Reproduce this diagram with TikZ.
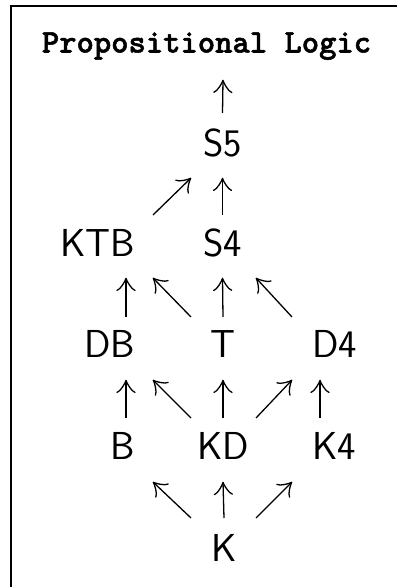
\documentclass[tikz,border=0pt]{standalone}
\usepackage{fontspec}
\usetikzlibrary{arrows.meta}
% heavier typewriter face for the heading
\newfontfamily\headfont{lmmonolt10-bold}[Extension=.otf, FakeBold=1.6]
% large Computer-Modern-style arrow head: tip at the origin, curled barbs behind it
\pgfdeclarearrow{
  name = cmhead,
  setup code = {
    \pgfarrowssettipend{0.4pt}
    \pgfarrowssetbackend{-12pt}
    \pgfarrowssetlineend{-0.6pt}
    \pgfarrowshullpoint{0.4pt}{0pt}
    \pgfarrowshullpoint{-12pt}{9pt}
    \pgfarrowshullpoint{-12pt}{-9pt}
  },
  drawing code = {
    \pgfsetdash{}{+0pt}
    \pgfsetlinewidth{1.3pt}
    \pgfsetroundcap
    \pgfsetroundjoin
    \pgfpathmoveto{\pgfqpoint{-12pt}{9pt}}
    \pgfpathcurveto{\pgfqpoint{-11.2pt}{5.6pt}}{\pgfqpoint{-2.4pt}{0.6pt}}{\pgfqpoint{0pt}{0pt}}
    \pgfpathcurveto{\pgfqpoint{-2.4pt}{-0.6pt}}{\pgfqpoint{-11.2pt}{-5.6pt}}{\pgfqpoint{-12pt}{-9pt}}
    \pgfusepathqstroke
  }
}
\begin{document}
\begin{tikzpicture}[x=1pt,y=1pt,
  sys/.style={inner sep=0pt, outer sep=0pt, text height=27pt, text depth=0pt,
    font=\sffamily\fontsize{39}{39}\selectfont},
  ttl/.style={inner sep=0pt, font=\headfont\fontsize{33}{33}\selectfont},
  arr/.style={line width=1.3pt, -cmhead},
  frame/.style={line width=2pt, line join=miter}]
\useasboundingbox (0,0) rectangle (397,587);
% open frame: left and top rules only
\draw[frame] (11,0) -- (11,581.3) -- (397,581.3);
% heading
\node[ttl, anchor=base] (title) at (206.5,534.5) {Propositional Logic};
% systems
\node[sys, anchor=base] (S5) at (222.5,430) {S5};
\node[sys, anchor=base east] (KTB) at (135,330) {KTB};
\node[sys, anchor=base] (S4) at (222.5,330) {S4};
\node[sys, anchor=base east] (DB) at (135,229) {DB};
\node[sys, anchor=base] (T) at (223,229) {T};
\node[sys, anchor=base west] (D4) at (312,229) {D4};
\node[sys, anchor=base east] (B) at (135,127) {B};
\node[sys, anchor=base] (KD) at (223,127) {KD};
\node[sys, anchor=base west] (K4) at (312,127) {K4};
\node[sys, anchor=base] (K) at (224,25) {K};
\coordinate (top) at (223,507);
% inclusions
\draw[arr] ([yshift=17pt]S5.north) -- (top);
\draw[arr] ([yshift=15pt]S4.north) -- ([yshift=-21pt]S5.south);
\draw[arr] ([shift={(18pt,15pt)}]KTB.north east) -- ([shift={(-31.5pt,-21pt)}]S5.south);
\draw[arr] ([shift={(-9pt,14pt)}]DB.north east) -- ([shift={(-9pt,-21pt)}]KTB.south east);
\draw[arr] ([shift={(-32pt,14pt)}]T.north) -- ([shift={(18pt,-21pt)}]KTB.south east);
\draw[arr] ([yshift=14pt]T.north) -- ([yshift=-21pt]S4.south);
\draw[arr] ([shift={(-20pt,14pt)}]D4.north west) -- ([shift={(33.5pt,-21pt)}]S4.south);
\draw[arr] ([shift={(-9pt,15pt)}]B.north east) -- ([shift={(-9pt,-22pt)}]DB.south east);
\draw[arr] ([shift={(-32pt,15pt)}]KD.north) -- ([shift={(18pt,-22pt)}]DB.south east);
\draw[arr] ([yshift=15pt]KD.north) -- ([yshift=-22pt]T.south);
\draw[arr] ([shift={(33pt,15pt)}]KD.north) -- ([shift={(-20pt,-22pt)}]D4.south west);
\draw[arr] ([shift={(8pt,15pt)}]K4.north west) -- ([shift={(8pt,-22pt)}]D4.south west);
\draw[arr] ([shift={(-33pt,17pt)}]K.north) -- ([shift={(18pt,-22pt)}]B.south east);
\draw[arr] ([yshift=17pt]K.north) -- ([yshift=-22pt]KD.south);
\draw[arr] ([shift={(32pt,17pt)}]K.north) -- ([shift={(-20pt,-22pt)}]K4.south west);
\end{tikzpicture}
\end{document}
